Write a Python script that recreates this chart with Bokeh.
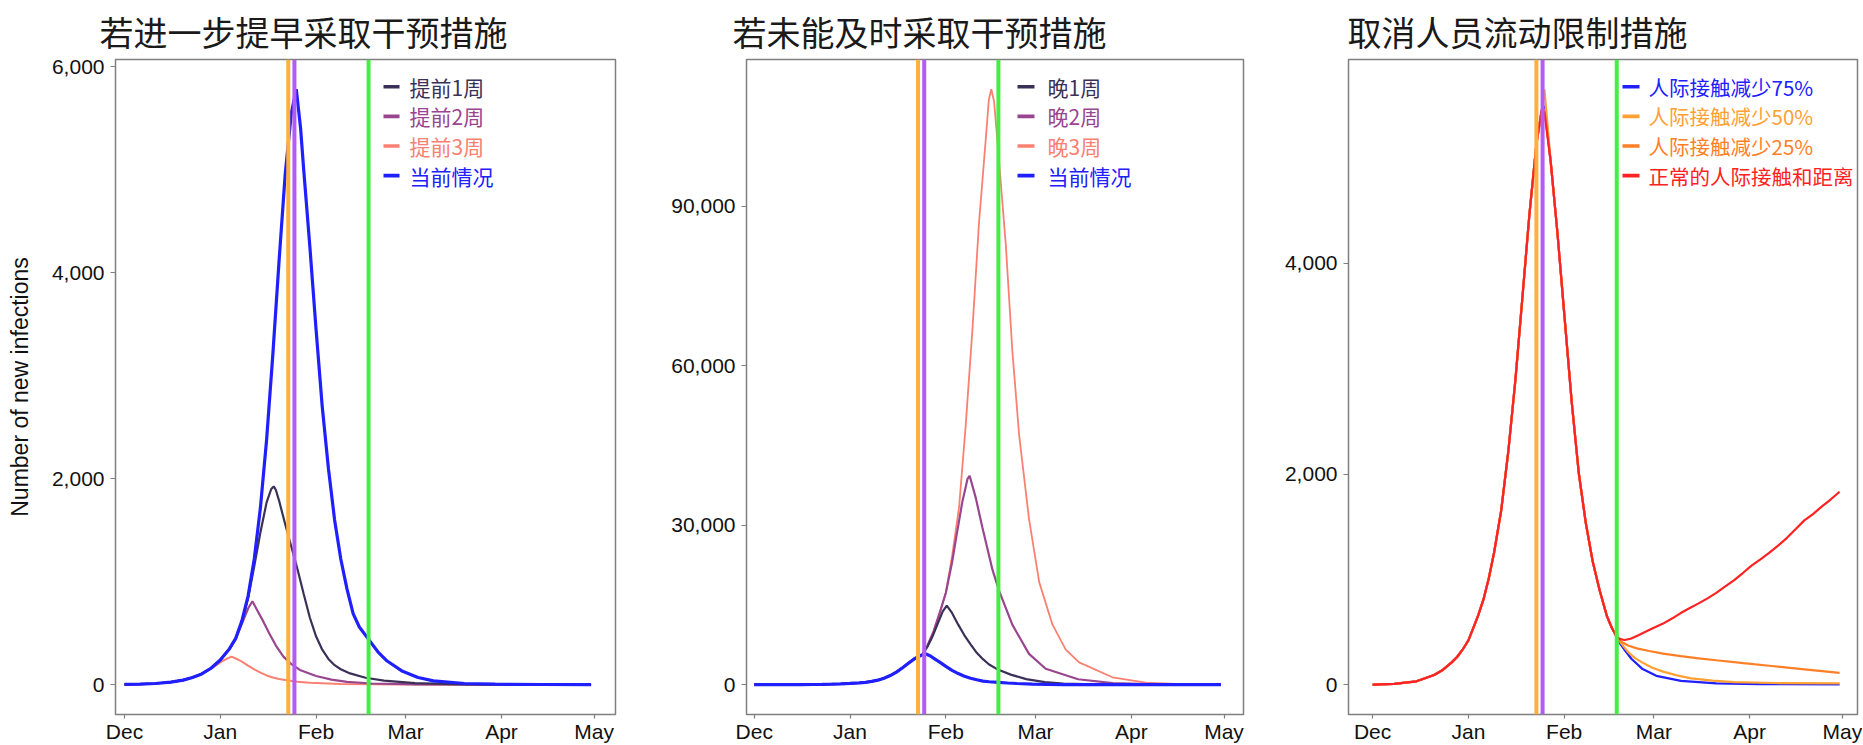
import pandas as pd
from bokeh.plotting import figure
from bokeh.models import (Range1d, FixedTicker, DatetimeTickFormatter, NumeralTickFormatter,
                          Span, Label, BoxAnnotation)
from bokeh.layouts import row
from bokeh.embed import file_html
from bokeh.resources import INLINE

# ---------------- data (day offsets from 2019-12-01, values = new infections) -------------
START = "2019-12-01"
month_ticks = ["2019-12-01", "2020-01-01", "2020-02-01", "2020-03-01", "2020-04-01", "2020-05-01"]
event_dates = ["2020-01-23", "2020-01-25", "2020-02-18"]

titles = ["若进一步提早采取干预措施", "若未能及时采取干预措施", "取消人员流动限制措施"]
y_title = "Number of new infections"

# Panel 1 / 2 : current situation
now_days = [0, 5, 10, 15, 19, 22, 25, 28, 31, 34, 36, 38, 40, 42, 44, 46, 48, 50, 52, 54, 55.6, 57, 58,
            60, 62, 64, 66, 68, 70, 72, 74, 76, 79, 82, 85, 90, 95, 100, 110, 120, 135, 151]
now_vals = [3, 6, 12, 25, 45, 70, 105, 160, 240, 350, 450, 620, 860, 1220, 1720, 2380, 3200, 4100, 4950,
            5550, 5780, 5400, 5000, 4250, 3450, 2700, 2100, 1600, 1220, 930, 690, 560, 440, 320, 230, 130,
            70, 38, 12, 5, 2, 1]

# Panel 1 : earlier by 1/2/3 weeks
e1_days = [0, 5, 10, 15, 19, 22, 25, 28, 31, 34, 36, 38, 40, 42, 44, 46, 47.5, 48.3, 49, 50, 52, 54, 56,
           58, 60, 62, 64, 66, 68, 70, 73, 78, 84, 94, 110, 130, 151]
e1_vals = [3, 6, 12, 25, 45, 70, 105, 160, 240, 350, 450, 610, 840, 1150, 1480, 1770, 1900, 1925, 1890,
           1790, 1560, 1340, 1120, 880, 650, 470, 340, 250, 190, 150, 110, 68, 40, 15, 4, 1, 0]
e2_days = [0, 5, 10, 15, 19, 22, 25, 28, 31, 34, 36, 38, 40, 41.4, 43, 45, 47, 49, 51.5, 54, 57, 62, 67,
           72, 80, 95, 151]
e2_vals = [3, 6, 12, 25, 45, 70, 105, 160, 240, 350, 445, 590, 740, 810, 720, 610, 490, 380, 270, 200,
           140, 85, 50, 28, 12, 3, 0]
e3_days = [0, 5, 10, 15, 19, 22, 25, 28, 30, 32, 34.6, 36, 38, 40, 42, 44, 46, 48, 50, 53, 56, 60, 70, 90, 151]
e3_vals = [3, 6, 12, 25, 45, 70, 105, 155, 195, 235, 273, 255, 225, 185, 150, 118, 90, 70, 55, 40, 30,
           20, 8, 2, 0]

# Panel 2 : later by 1/2/3 weeks
shared_days = [0, 5, 10, 15, 19, 22, 25, 28, 31, 34, 36, 38, 40, 42, 44, 46, 48, 50, 52]
shared_vals = [3, 6, 12, 25, 45, 70, 105, 160, 240, 350, 450, 620, 860, 1220, 1720, 2380, 3200, 4100, 4950]
l1_days = [54.4, 56, 57.6, 59.8, 61, 62.3, 64, 66, 68, 70, 72, 74, 76, 79, 83, 88, 94, 100, 110, 125, 151]
l1_vals = [5650, 7100, 8960, 12100, 13800, 14900, 13500, 11300, 9300, 7600, 6000, 4800, 3800, 2800, 1900,
           1050, 480, 200, 60, 10, 0]
l2_days = [54.4, 56, 58, 60, 62, 64, 65.2, 67.3, 69, 69.7, 71.7, 73.8, 77.1, 79.2, 83.5, 88.9, 94.3,
           104.8, 116, 130, 151]
l2_vals = [5650, 7300, 10000, 13500, 17300, 23000, 27200, 34300, 38700, 39300, 35100, 29600, 21600,
           17700, 11300, 5800, 3000, 1030, 300, 50, 0]
l3_days = [54.4, 56, 58, 60, 62, 64.1, 66.3, 68.4, 70.6, 72.7, 74.9, 75.9, 76.7, 77.6, 79.2, 81.4, 83.5,
           85.7, 88.9, 92.2, 96.5, 100.8, 105.1, 115.9, 126.7, 140, 151]
l3_vals = [5650, 7300, 10000, 13500, 17300, 24500, 33500, 48600, 66800, 86700, 102500, 110000, 112000,
           109700, 98600, 82700, 62900, 47000, 31200, 19300, 11300, 6600, 4200, 1400, 400, 80, 0]

# Panel 3 : lifting travel restrictions
p3_rise_days = [0, 7, 14.2, 19.9, 22.7, 25.6, 27.4, 29.1, 31, 32.5, 34.2, 35.9, 37.6, 39.3, 41.6, 43.9,
                46.2, 48.4, 50.7, 53.0, 54.7]
p3_rise_vals = [0, 8, 32, 92, 140, 212, 265, 332, 420, 532, 660, 812, 1010, 1252, 1652, 2212, 2892, 3652,
                4452, 5132, 5452]
p3_peak_day = 55.6
p3_peaks = [5492, 5652, 5460, 5432]          # 75%, 50%, 25%, normal
p3_fall_days = [57.6, 59.8, 62.1, 64.4, 66.7, 69.0, 71.2, 73.5, 75.8, 77.4, 79.0]
p3_fall_vals = [4972, 4292, 3492, 2692, 2012, 1532, 1172, 892, 652, 540, 452]
c75_days = [80.2, 81.5, 83.8, 87.2, 91.8, 99.8, 111.2, 125, 151.1]
c75_vals = [385, 332, 244, 152, 84, 36, 12, 5, 2]
c50_days = [80.5, 82.6, 84.8, 87.2, 90.5, 94, 98.5, 103.1, 110, 116.9, 130, 151.1]
c50_vals = [390, 312, 255, 212, 160, 124, 88, 60, 38, 24, 16, 12]
c25_days = [80.3, 82.6, 85.5, 89.5, 94, 99.7, 105.5, 111.2, 120, 128.3, 139.7, 151.1]
c25_vals = [410, 372, 345, 320, 295, 272, 250, 232, 205, 180, 146, 112]
c0_days = [80.2, 81.5, 83.5, 86, 88.3, 91, 94, 97, 99.7, 102.5, 105.5, 108.5, 111.2, 114, 116.9, 119.8,
           122.6, 125.5, 128.3, 131.2, 134, 137, 139.7, 142.5, 145.4, 148.3, 151.1]
c0_vals = [432, 424, 436, 470, 502, 540, 580, 630, 680, 725, 772, 822, 872, 930, 990, 1060, 1130, 1190,
           1252, 1320, 1392, 1480, 1560, 1620, 1692, 1760, 1832]

labels1 = ["提前1周", "提前2周", "提前3周", "当前情况"]
labels2 = ["晚1周", "晚2周", "晚3周", "当前情况"]
labels3 = ["人际接触减少75%", "人际接触减少50%", "人际接触减少25%", "正常的人际接触和距离"]

y_ticks1 = [0, 2000, 4000, 6000]
y_ticks2 = [0, 30000, 60000, 90000]
y_ticks3 = [0, 2000, 4000]

# ---------------- styling ----------------
C_DARK, C_PURP, C_SALM, C_BLUE = "#3B3158", "#9A4590", "#FA8072", "#2020FF"
C3 = ["#2020FF", "#FFA033", "#FF7F27", "#FF2222"]
EVENT_COLORS = ["#FFB03B", "#B25CF2", "#44EE44"]
CJK = "Noto Sans CJK SC"
SANS = "Liberation Sans"

t0 = pd.Timestamp(START)


def to_x(days):
    return t0 + pd.to_timedelta(pd.Series(days, dtype=float), unit="D")


def ms(ts):
    return pd.Timestamp(ts).value / 1e6


DAY_MS = 86400000.0
H = 745
TOP = 57
BOTTOM = 29
FRAME_H = H - TOP - BOTTOM


def make_fig(width, left, right, x_lo, x_hi, y_lo, y_hi, y_ticks, title, title_offset):
    p = figure(width=width, height=H, x_axis_type="datetime", output_backend="svg",
               toolbar_location=None,
               x_range=Range1d(ms(t0) + x_lo * DAY_MS, ms(t0) + x_hi * DAY_MS),
               y_range=Range1d(y_lo, y_hi),
               min_border_left=left, min_border_right=right,
               min_border_top=TOP, min_border_bottom=BOTTOM)
    p.title.text = title
    p.title.align = "left"
    p.title.offset = title_offset
    p.title.standoff = 8
    p.title.text_font = CJK
    p.title.text_font_size = "34px"
    p.title.text_font_style = "normal"
    p.title.text_color = "#1a1a1a"
    p.grid.visible = False
    p.outline_line_color = "#7f7f7f"
    p.outline_line_width = 1.5
    p.background_fill_color = "white"
    p.border_fill_color = "white"
    for ax in (p.xaxis[0], p.yaxis[0]):
        ax.axis_line_color = None
        ax.major_tick_line_color = "#7f7f7f"
        ax.major_tick_line_width = 1.2
        ax.major_tick_in = 0
        ax.minor_tick_line_color = None
        ax.major_label_text_font = SANS
        ax.major_label_text_color = "#111111"
        ax.major_label_text_font_size = "21px"
    p.xaxis.major_tick_out = 4
    p.xaxis.major_label_standoff = 1
    p.yaxis.major_tick_out = 5
    p.yaxis.major_label_standoff = 6
    p.xaxis.ticker = FixedTicker(ticks=[ms(d) for d in month_ticks])
    p.xaxis.formatter = DatetimeTickFormatter(days="%b", months="%b", years="%b")
    p.yaxis.ticker = FixedTicker(ticks=y_ticks)
    p.yaxis.formatter = NumeralTickFormatter(format="0,0")
    return p


def add_events(p):
    for d, c in zip(event_dates, EVENT_COLORS):
        p.add_layout(Span(location=ms(d), dimension="height", line_color=c, line_width=4))


def add_legend(p, labels, colors, gx0, gx1, tx, size="21px"):
    for i, (lab, col) in enumerate(zip(labels, colors)):
        y = FRAME_H - 31.3 - 29.6 * i
        p.add_layout(BoxAnnotation(left=gx0, right=gx1, bottom=y - 1.8, top=y + 1.8,
                                   left_units="screen", right_units="screen",
                                   bottom_units="screen", top_units="screen",
                                   fill_color=col, fill_alpha=1, line_alpha=0))
        p.add_layout(Label(x=tx, y=y, x_units="screen", y_units="screen", text=lab,
                           text_color=col, text_font=CJK, text_font_size=size,
                           text_baseline="middle", text_align="left"))


# ---------------- panel 1 ----------------
p1 = make_fig(640, 115, 25, -2.9, 158.9, -289, 6069, y_ticks1, titles[0], -16)
p1.line(to_x(e3_days), e3_vals, line_color=C_SALM, line_width=2)
p1.line(to_x(e2_days), e2_vals, line_color=C_PURP, line_width=2.2)
p1.line(to_x(e1_days), e1_vals, line_color=C_DARK, line_width=2.2)
p1.line(to_x(now_days), now_vals, line_color=C_BLUE, line_width=3.2)
add_events(p1)
p1.yaxis.axis_label = y_title
p1.yaxis.axis_label_text_font = SANS
p1.yaxis.axis_label_text_font_size = "23px"
p1.yaxis.axis_label_text_font_style = "normal"
p1.yaxis.axis_label_text_color = "#111111"
p1.yaxis.axis_label_standoff = 16
add_legend(p1, labels1, [C_DARK, C_PURP, C_SALM, C_BLUE], 268, 284, 294)

# ---------------- panel 2 ----------------
p2 = make_fig(620, 106, 17, -2.5, 158.3, -5600, 117600, y_ticks2, titles[1], -14)
p2.line(to_x(shared_days + l3_days), shared_vals + l3_vals, line_color=C_SALM, line_width=1.8)
p2.line(to_x(shared_days + l2_days), shared_vals + l2_vals, line_color=C_PURP, line_width=2.2)
p2.line(to_x(shared_days + l1_days), shared_vals + l1_vals, line_color=C_DARK, line_width=2.2)
p2.line(to_x(now_days), now_vals, line_color=C_BLUE, line_width=3.2)
add_events(p2)
add_legend(p2, labels2, [C_DARK, C_PURP, C_SALM, C_BLUE], 271, 288, 301)

# ---------------- panel 3 ----------------
p3 = make_fig(602, 88, 5, -7.8, 156.9, -283, 5935, y_ticks3, titles[2], -1)
posts = [(c75_days, c75_vals), (c50_days, c50_vals), (c25_days, c25_vals), (c0_days, c0_vals)]
for (pd_days, pd_vals), peak, col in zip(posts, p3_peaks, C3):
    days = p3_rise_days + [p3_peak_day] + p3_fall_days + pd_days
    vals = p3_rise_vals + [peak] + p3_fall_vals + pd_vals
    p3.line(to_x(days), vals, line_color=col, line_width=2.2)
add_events(p3)
add_legend(p3, labels3, C3, 274, 291, 300, size="20.5px")

layout = row(p1, p2, p3, spacing=0)
open("out.html", "w").write(file_html(layout, INLINE))
